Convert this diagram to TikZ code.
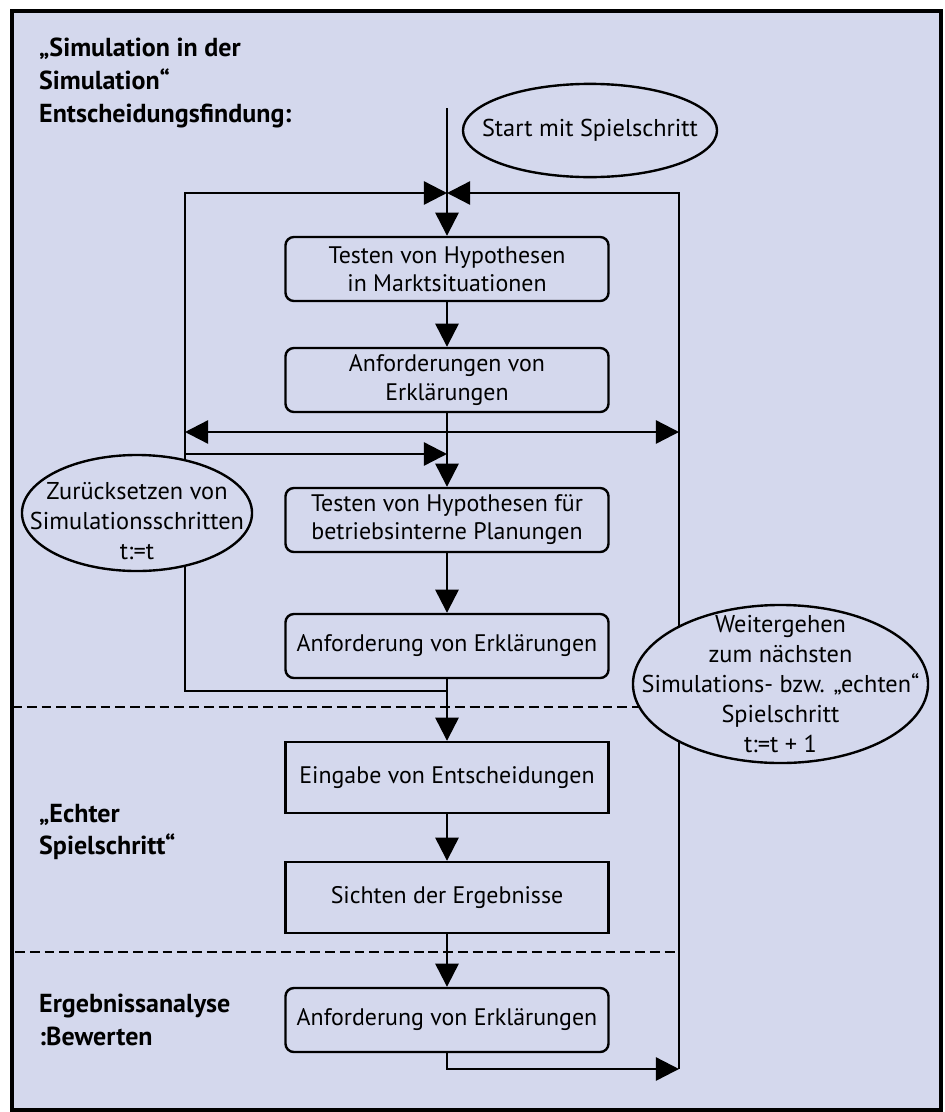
\documentclass[tikz,border=0pt]{standalone}
\usepackage{fontspec}
\setmainfont{PT Sans}
\usetikzlibrary{shapes.geometric,arrows.meta}

\definecolor{paper}{RGB}{212,216,237}

\begin{document}
\begin{tikzpicture}[x=0.025cm,y=-0.025cm,line width=1.7pt,
  >={Triangle[length=16.5pt,width=16.5pt]},
  box/.style={draw,rectangle,rounded corners=6pt,fill=paper,inner sep=0pt,
    minimum width=8.075cm,minimum height=1.6cm,align=center,
    font=\fontsize{17}{20}\selectfont},
  plainbox/.style={box,sharp corners,minimum height=1.775cm},
  oval/.style={draw,ellipse,fill=paper,inner sep=0pt},
  every label/.style={align=center,inner sep=0pt,font=\fontsize{17.3}{21.3}\selectfont},
  phase/.style={anchor=west,align=left,inner sep=0pt,
    font=\fontsize{18.5}{23.2}\selectfont\bfseries},
  sep/.style={dash pattern=on 7pt off 3.5pt}]
\useasboundingbox (0,0) rectangle (945,1112);
\draw [line width=2.5pt,fill=paper] (12,11) rectangle (941,1110);

% phase labels
\node [phase] (sim) at (38,83) {„Simulation in der\\Simulation“\\Entscheidungsfindung:};
\node [phase] (real) at (38,832) {„Echter\\Spielschritt“};
\node [phase] (eval) at (38,1020) {Ergebnissanalyse\\:Bewerten};

\draw [sep] (12,707) -- (700,707);
\draw [sep] (15,952) -- (679,952);

% steps
\node [box] (b1) at (447,269) {Testen von Hypothesen\\in Marktsituationen};
\node [box] (b2) at (447,380) {Anforderungen von\\Erklärungen};
\node [box] (b3) at (447,520) {Testen von Hypothesen für\\betriebsinterne Planungen};
\node [box] (b4) at (447,646) {Anforderung von Erklärungen};
\node [plainbox] (b5) at (447,777.5) {Eingabe von Entscheidungen};
\node [plainbox] (b6) at (447,897.5) {Sichten der Ergebnisse};
\node [box] (b7) at (447,1020) {Anforderung von Erklärungen};

\coordinate (in) at (447,108);
\coordinate (jtop) at (447,193);
\coordinate (tl) at (185,193);
\coordinate (tr) at (679,193);
\coordinate (ml) at (185,432);
\coordinate (mr) at (679,432);
\coordinate (sl) at (185,454);
\coordinate (sj) at (447,454);
\coordinate (bj) at (447,691);
\coordinate (br) at (679,1069);

\draw (in) -- (jtop);
\draw [->] (bj) -| (tl) -- (jtop);
\draw [->] (br) -- (tr) -- (jtop);
\draw [<->] (ml) -- (mr);
\draw [->] (sl) -- (sj);
\draw [->] (b7.south) |- (br);

\path [->]
(jtop) edge (b1)
(b1) edge (b2)
(b2) edge (b3)
(b3) edge (b4)
(b4) edge (b5)
(b5) edge (b6)
(b6) edge (b7);

% ovals
\node [oval,minimum width=6.35cm,minimum height=2.33cm,
  label={center:Start mit Spielschritt}] (start) at (590,130.5) {};
\node [oval,minimum width=5.75cm,minimum height=2.9cm,
  label={[yshift=-6pt]center:Zurücksetzen von\\Simulationsschritten\\t:=t}] (reset) at (137,513) {};
\node [oval,minimum width=7.375cm,minimum height=3.95cm,
  label={center:Weitergehen\\zum nächsten\\Simulations- bzw. „echten“\\Spielschritt\\t:=t + 1}] (next) at (780.5,684) {};
\end{tikzpicture}
\end{document}
